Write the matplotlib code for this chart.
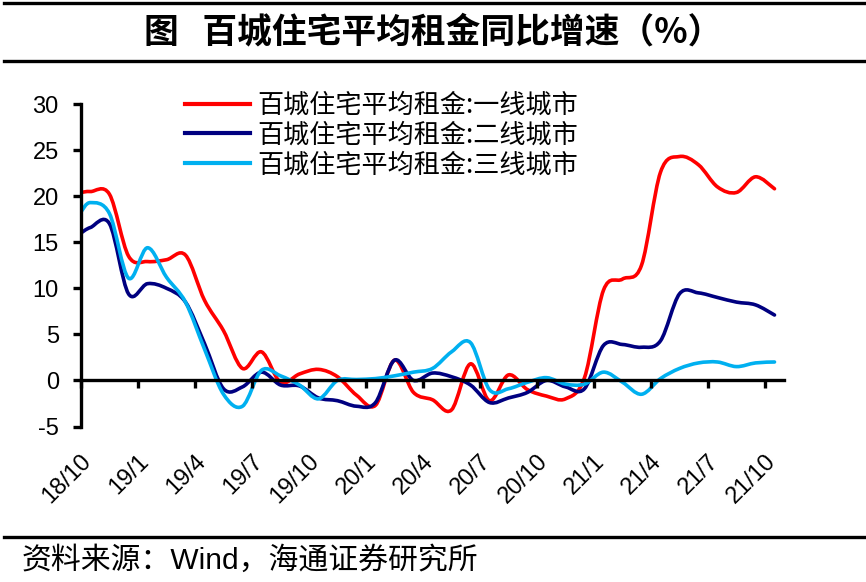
import numpy as np
import matplotlib
matplotlib.use("Agg")
import matplotlib.pyplot as plt
from matplotlib.path import Path
from matplotlib.patches import PathPatch
from matplotlib.lines import Line2D
from matplotlib.transforms import ScaledTranslation

# 月份位置（0 = 2018/10），取样点在每月中间
meses = [0] + [i + 0.5 for i in range(37)]

# 一线城市
primera = [20.4, 20.5, 20.2, 13.5, 12.9, 13.1, 13.6, 8.7, 5.4, 1.3,
           3.1, -0.2, 0.7, 1.2, 0.4, -1.6, -2.7, 2.2, -1.3, -2.1,
           -3.2, 1.8, -2.2, 0.6, -1.0, -1.7, -2.0, 0.3, 9.8, 11.0,
           12.5, 22.6, 24.3, 23.4, 21.0, 20.4, 22.1, 20.8]
# 二线城市
segunda = [16.0, 16.6, 17.0, 9.4, 10.5, 10.0, 8.5, 4.0, -0.9, -0.7,
           0.9, -0.5, -0.6, -1.9, -2.2, -2.8, -2.4, 2.2, 0.0, 0.8,
           0.4, -0.5, -2.4, -1.9, -1.3, 0.0, -0.7, -0.9, 3.8, 3.9,
           3.6, 4.3, 9.4, 9.5, 9.0, 8.5, 8.2, 7.1]
# 三线城市
tercera = [18.3, 19.3, 18.1, 11.1, 14.4, 11.2, 8.5, 3.4, -1.5, -2.8,
           1.1, 0.5, -0.5, -2.0, 0.0, 0.1, 0.2, 0.5, 0.9, 1.3,
           3.1, 4.1, -1.0, -0.9, -0.2, 0.3, -0.4, -0.4, 0.9, -0.2,
           -1.5, 0.2, 1.3, 1.9, 2.0, 1.5, 1.9, 2.0]

etiquetas = ["18/10", "19/1", "19/4", "19/7", "19/10", "20/1", "20/4",
             "20/7", "20/10", "21/1", "21/4", "21/7", "21/10"]
pos_etiquetas = list(range(0, 37, 3))

series = [
    ("百城住宅平均租金:一线城市", primera, "#FF0000"),
    ("百城住宅平均租金:二线城市", segunda, "#000080"),
    ("百城住宅平均租金:三线城市", tercera, "#00B0F0"),
]


def curva_suave(xs, ys):
    # linea suavizada tipo Excel (Bezier por Catmull-Rom)
    pts = np.column_stack([xs, ys]).astype(float)
    n = len(pts)
    verts = [pts[0]]
    codes = [Path.MOVETO]
    for i in range(n - 1):
        p0 = pts[max(i - 1, 0)]
        p1 = pts[i]
        p2 = pts[i + 1]
        p3 = pts[min(i + 2, n - 1)]
        verts += [p1 + (p2 - p0) / 6, p2 - (p3 - p1) / 6, p2]
        codes += [Path.CURVE4] * 3
    return Path(verts, codes)


plt.rcParams['font.family'] = ['Liberation Sans', 'Noto Sans CJK SC', 'DejaVu Sans']
plt.rcParams['axes.unicode_minus'] = False

W, H = 866, 582
fig = plt.figure(figsize=(W / 100, H / 100), dpi=100)
ax = fig.add_axes([81 / W, (H - 426.5) / H, (784 - 81) / W, (426.5 - 104) / H])

handles = []
for nombre, valores, color in series:
    patch = PathPatch(curva_suave(meses, valores), facecolor="none",
                      edgecolor=color, lw=2.6, capstyle="round", joinstyle="round")
    ax.add_patch(patch)
    handles.append(Line2D([], [], color=color, lw=3))

ax.set_xlim(0, 37)
ax.set_ylim(-5, 30)
ax.set_yticks(range(-5, 31, 5))
ax.set_xticks(pos_etiquetas)
ax.tick_params(axis="x", labelbottom=False, direction="out", length=6, width=2.4)
ax.tick_params(axis="y", direction="out", length=6, width=2.4, labelsize=17, pad=10)

for s in ["top", "right"]:
    ax.spines[s].set_visible(False)
ax.spines["left"].set_linewidth(2.4)
ax.spines["bottom"].set_linewidth(2.4)
ax.spines["bottom"].set_position(("data", 0))

# etiquetas del eje x debajo del area
sec = ax.secondary_xaxis("bottom")
sec.set_xticks(pos_etiquetas, etiquetas)
sec.spines["bottom"].set_visible(False)
sec.tick_params(length=0, labelsize=17, pad=17)
for lab in sec.get_xticklabels():
    lab.set_rotation(45)
    lab.set_ha("right")
    lab.set_va("top")
    lab.set_transform(lab.get_transform() + ScaledTranslation(15 / 100, 0, fig.dpi_scale_trans))

ax.legend(handles, [s[0] for s in series], loc="upper left",
          bbox_to_anchor=(185 / W, (H - 92) / H), bbox_transform=fig.transFigure,
          frameon=False, borderpad=0, borderaxespad=0, handlelength=2.48,
          handletextpad=0.3, labelspacing=0.1,
          prop={"family": ["Noto Sans CJK SC"], "size": 18.8})

# titulo y lineas
fig.text(0.5, 1 - 32 / H, "图   百城住宅平均租金同比增速（%）", ha="center", va="center",
         fontsize=25, fontweight="bold", family=["Noto Sans CJK SC"])
for yy in [3, 61, 537]:
    fig.add_artist(Line2D([4 / W, 1], [1 - yy / H, 1 - yy / H], transform=fig.transFigure,
                          color="black", lw=2.4))

fig.text(22 / W, 1 - 560 / H, "资料来源：Wind，海通证券研究所", ha="left", va="center",
         fontsize=21.5)

fig.savefig("out.png", dpi=100)
